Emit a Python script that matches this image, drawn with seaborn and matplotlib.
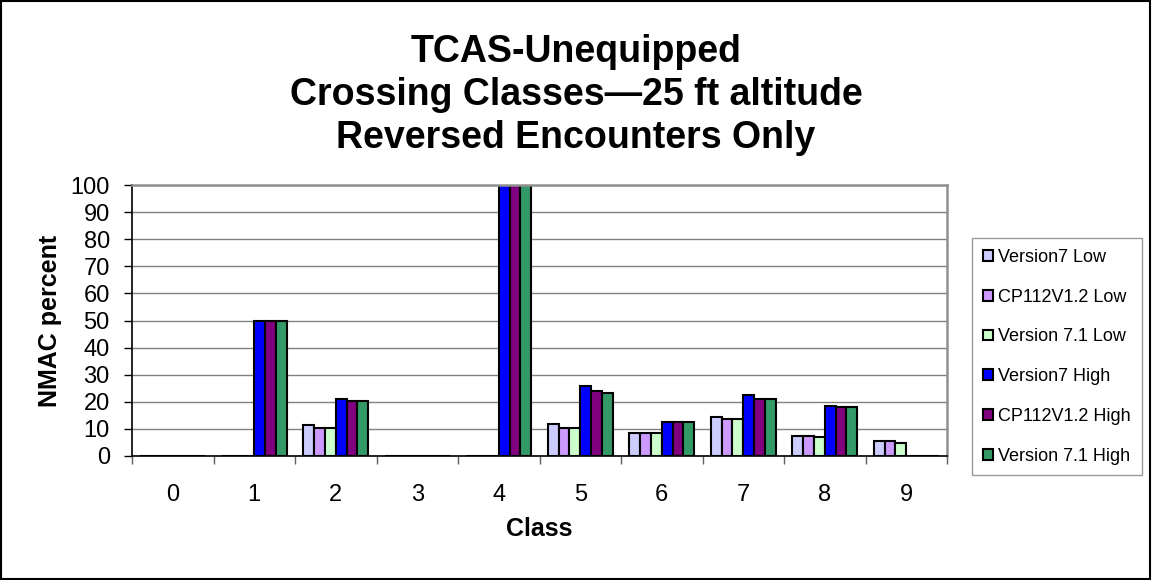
import matplotlib
matplotlib.use("Agg")
import matplotlib.pyplot as plt
import seaborn as sns
import pandas as pd
import numpy as np
from matplotlib.ticker import FixedLocator

classes = ["0", "1", "2", "3", "4", "5", "6", "7", "8", "9"]
series_names = ["Version7 Low", "CP112V1.2 Low", "Version 7.1 Low",
                "Version7 High", "CP112V1.2 High", "Version 7.1 High"]
v7_low = [0, 0, 11.3, 0, 0, 11.7, 8.6, 14.4, 7.4, 5.5]
cp_low = [0, 0, 10.2, 0, 0, 10.2, 8.6, 13.5, 7.4, 5.5]
v71_low = [0, 0, 10.2, 0, 0, 10.2, 8.6, 13.5, 7.0, 4.7]
v7_high = [0, 50, 21.2, 0, 100, 25.7, 12.5, 22.6, 18.3, 0]
cp_high = [0, 50, 20.4, 0, 100, 24.1, 12.5, 21.2, 18.1, 0]
v71_high = [0, 50, 20.4, 0, 100, 23.4, 12.5, 21.2, 18.1, 0]
colors = ["#CCCCFF", "#CC99FF", "#CCFFCC", "#0000FF", "#800080", "#339966"]

all_vals = [v7_low, cp_low, v71_low, v7_high, cp_high, v71_high]
rows = []
for name, vals in zip(series_names, all_vals):
    for c, v in zip(classes, vals):
        rows.append({"Class": c, "Series": name, "Value": v})
df = pd.DataFrame(rows)

sns.set_theme(style="white")
plt.rcParams["font.family"] = ["Liberation Sans", "DejaVu Sans"]
for k in ["text.color", "axes.labelcolor", "xtick.color", "ytick.color"]:
    plt.rcParams[k] = "black"

fig = plt.figure(figsize=(11.52, 5.80), dpi=100)
ax = fig.add_axes([132 / 1152, 1 - 456 / 580, (947 - 132) / 1152, (456 - 185) / 580])

sns.barplot(data=df, x="Class", y="Value", hue="Series", order=classes,
            hue_order=series_names, palette=colors, width=0.8,
            edgecolor="black", linewidth=1.5, ax=ax, errorbar=None,
            saturation=1)

ax.set_ylim(0, 100)
ax.set_xlim(-0.5, 9.5)
ax.set_yticks(np.arange(0, 101, 10))
ax.yaxis.grid(True, color="#808080", linewidth=1.0)
ax.set_axisbelow(True)
ax.tick_params(axis="y", labelsize=17, length=6, width=1, direction="out",
               left=True, color="black", pad=10)
ax.tick_params(axis="x", which="major", labelsize=17, length=0, pad=20)
ax.xaxis.set_minor_locator(FixedLocator(np.arange(-0.5, 10, 1)))
ax.tick_params(axis="x", which="minor", length=6, width=1, direction="out",
               bottom=True, color="#606060")
for s in ["top", "right"]:
    ax.spines[s].set_color("#909090")
    ax.spines[s].set_linewidth(1.8)
ax.spines["left"].set_color("black")
ax.spines["bottom"].set_color("black")
ax.spines["left"].set_linewidth(1.2)
ax.spines["bottom"].set_linewidth(1.2)

ax.set_xlabel("Class", fontsize=18, fontweight="bold", labelpad=8)
ax.set_ylabel("NMAC percent", fontsize=18, fontweight="bold", labelpad=6)

fig.text(0.5, 1 - 34 / 580,
         "TCAS-Unequipped\nCrossing Classes\u201425 ft altitude\nReversed Encounters Only",
         ha="center", va="top", fontsize=27, fontweight="bold", linespacing=1.25)

ax.legend_.remove()
handles = [plt.Rectangle((0, 0), 1, 1, facecolor=c, edgecolor="black", linewidth=1.5)
           for c in colors]
leg = fig.legend(handles, series_names, loc="upper left",
                 bbox_to_anchor=(972 / 1152, 1 - 238 / 580), fontsize=13,
                 frameon=True, fancybox=False, edgecolor="#808080",
                 handlelength=0.55, handleheight=0.55, handletextpad=0.3,
                 labelspacing=1.26, borderpad=0.6, borderaxespad=0)
leg.get_frame().set_linewidth(1.0)

fig.patches.append(plt.Rectangle((0.001, 0.002), 0.997, 0.996, transform=fig.transFigure,
                                 fill=False, edgecolor="black", linewidth=1.5))

fig.savefig("out.png", dpi=100)
